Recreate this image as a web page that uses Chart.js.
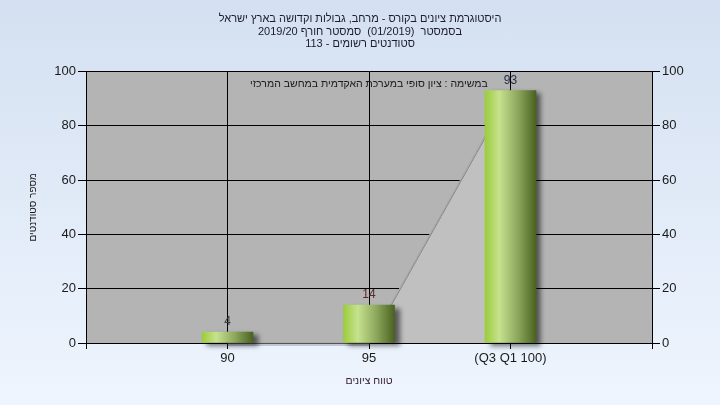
<!DOCTYPE html>
<html><head><meta charset="utf-8">
<script src="https://cdn.jsdelivr.net/npm/chart.js@4/dist/chart.umd.min.js"></script>
<style>
html,body{margin:0;padding:0;}
body{width:720px;height:405px;background:linear-gradient(to bottom,#d4e0f1,#eef5fe);overflow:hidden;}
canvas{display:block;}
</style></head><body>
<canvas id="c" width="720" height="405"></canvas>
<script>
const titleLines = ['היסטוגרמת ציונים בקורס - מרחב, גבולות וקדושה בארץ ישראל', 'בסמסטר  (01/2019)  סמסטר חורף 2019/20', 'סטודנטים רשומים - 113'];
const noteText = 'במשימה : ציון סופי במערכת האקדמית במחשב המרכזי';
const gradeLabels = ['90', '95', '(Q3 Q1 100)'];
const gradePositions = [90, 95, 100];
const studentCounts = [4, 14, 93];
const areaValues = [0, 0, 93];
const yAxisTitle = 'מספר סטודנטים';
const xAxisTitle = 'טווח ציונים';
const labelColors = ['#3c3c3c', '#5a2a2a', '#1e2a4a'];

const rtl = s => '\u202B' + s + '\u202C';
const FONT = "'Liberation Sans', 'DejaVu Sans', Arial, sans-serif";

const plotBg = {
  id: 'plotBg',
  beforeDraw(chart) {
    const {ctx, chartArea: a} = chart;
    ctx.save();
    ctx.fillStyle = '#b4b4b4';
    ctx.fillRect(a.left, a.top, a.right - a.left, a.bottom - a.top);
    ctx.restore();
  }
};
const barShadow = {
  id: 'barShadow',
  beforeDatasetDraw(chart, args) {
    const ctx = chart.ctx;
    ctx.save();
    if (args.meta.type === 'bar') {
      ctx.shadowColor = 'rgba(0,0,0,0.55)';
      ctx.shadowOffsetX = 5;
      ctx.shadowOffsetY = 3;
      ctx.shadowBlur = 5;
    } else {
      ctx.shadowColor = 'rgba(90,90,110,0.6)';
      ctx.shadowOffsetX = 0;
      ctx.shadowOffsetY = 2;
      ctx.shadowBlur = 0;
    }
  },
  afterDatasetDraw(chart) {
    chart.ctx.restore();
  }
};
const texts = {
  id: 'texts',
  afterDatasetsDraw(chart) {
    const ctx = chart.ctx;
    const meta = chart.getDatasetMeta(0);
    ctx.save();
    ctx.font = '12px ' + FONT;
    ctx.textAlign = 'center';
    ctx.textBaseline = 'bottom';
    meta.data.forEach((el, i) => {
      ctx.fillStyle = labelColors[i];
      ctx.fillText(String(studentCounts[i]), el.x, el.y - 4);
    });
    ctx.direction = 'rtl';
    ctx.textAlign = 'right';
    ctx.textBaseline = 'middle';
    ctx.font = '10.5px ' + FONT;
    ctx.fillStyle = '#1a1a1a';
    const xs = chart.scales.x;
    ctx.fillText(noteText, xs.getPixelForValue(99.2), chart.chartArea.top + 12);
    ctx.restore();
  }
};

new Chart(document.getElementById('c'), {
  data: {
    datasets: [
      {
        type: 'bar',
        order: 1,
        clip: false,
        data: gradePositions.map((x, i) => ({x: x, y: studentCounts[i]})),
        barThickness: 51,
        backgroundColor: (c) => {
          const chart = c.chart;
          if (!chart.chartArea || c.type !== 'data') return '#9ccc3c';
          const px = chart.scales.x.getPixelForValue(gradePositions[c.dataIndex]);
          const g = chart.ctx.createLinearGradient(px - 25.5, 0, px + 25.5, 0);
          g.addColorStop(0, '#9ccc3c');
          g.addColorStop(0.28, '#c6e28e');
          g.addColorStop(0.65, '#8ca65c');
          g.addColorStop(1, '#4a6220');
          return g;
        },
        borderWidth: 0
      },
      {
        type: 'line',
        order: 2,
        clip: false,
        data: gradePositions.map((x, i) => ({x: x, y: areaValues[i]})),
        fill: 'origin',
        backgroundColor: '#c0c0c0',
        borderColor: '#a6a6a6',
        borderWidth: 1,
        pointRadius: 0,
        tension: 0
      }
    ]
  },
  options: {
    responsive: false,
    animation: false,
    devicePixelRatio: 1,
    layout: {padding: 0},
    plugins: {
      legend: {display: false},
      tooltip: {enabled: false},
      title: {
        display: true,
        text: titleLines.map(rtl),
        color: '#1c1c2c',
        font: {family: FONT, size: 11, weight: 'normal', lineHeight: 1.14},
        padding: {top: 13, bottom: 21}
      }
    },
    scales: {
      x: {
        type: 'linear',
        offset: false,
        min: 85, max: 105,
        afterFit: s => { s.height = 62; },
        afterBuildTicks: s => { s.ticks = [85, 90, 95, 100, 105].map(v => ({value: v})); },
        ticks: {
          color: '#1a1a1a',
          font: {family: FONT, size: 13},
          padding: 2,
          callback: v => { const i = gradePositions.indexOf(v); return i >= 0 ? gradeLabels[i] : ''; }
        },
        grid: {color: '#000', lineWidth: 1, tickLength: 6, offset: false},
        border: {color: '#000', width: 1},
        title: {display: true, text: rtl(xAxisTitle), color: '#3a2038', font: {family: FONT, size: 10.5}, padding: {top: 4, bottom: 18}}
      },
      y: {
        position: 'left',
        min: 0, max: 100,
        afterFit: s => { s.width = 86; },
        ticks: {stepSize: 20, color: '#1a1a1a', font: {family: FONT, size: 13}, padding: 2},
        grid: {color: '#000', lineWidth: 1, tickLength: 8},
        border: {color: '#000', width: 1},
        title: {display: true, text: rtl(yAxisTitle), color: '#1a1a1a', font: {family: FONT, size: 10}, padding: {top: 27, bottom: 4}}
      },
      y2: {
        position: 'right',
        min: 0, max: 100,
        afterFit: s => { s.width = 68; },
        ticks: {stepSize: 20, color: '#1a1a1a', font: {family: FONT, size: 13}, padding: 2},
        grid: {drawOnChartArea: false, color: '#000', tickLength: 8},
        border: {color: '#000', width: 1}
      }
    }
  },
  plugins: [plotBg, barShadow, texts]
});
</script>
</body></html>
